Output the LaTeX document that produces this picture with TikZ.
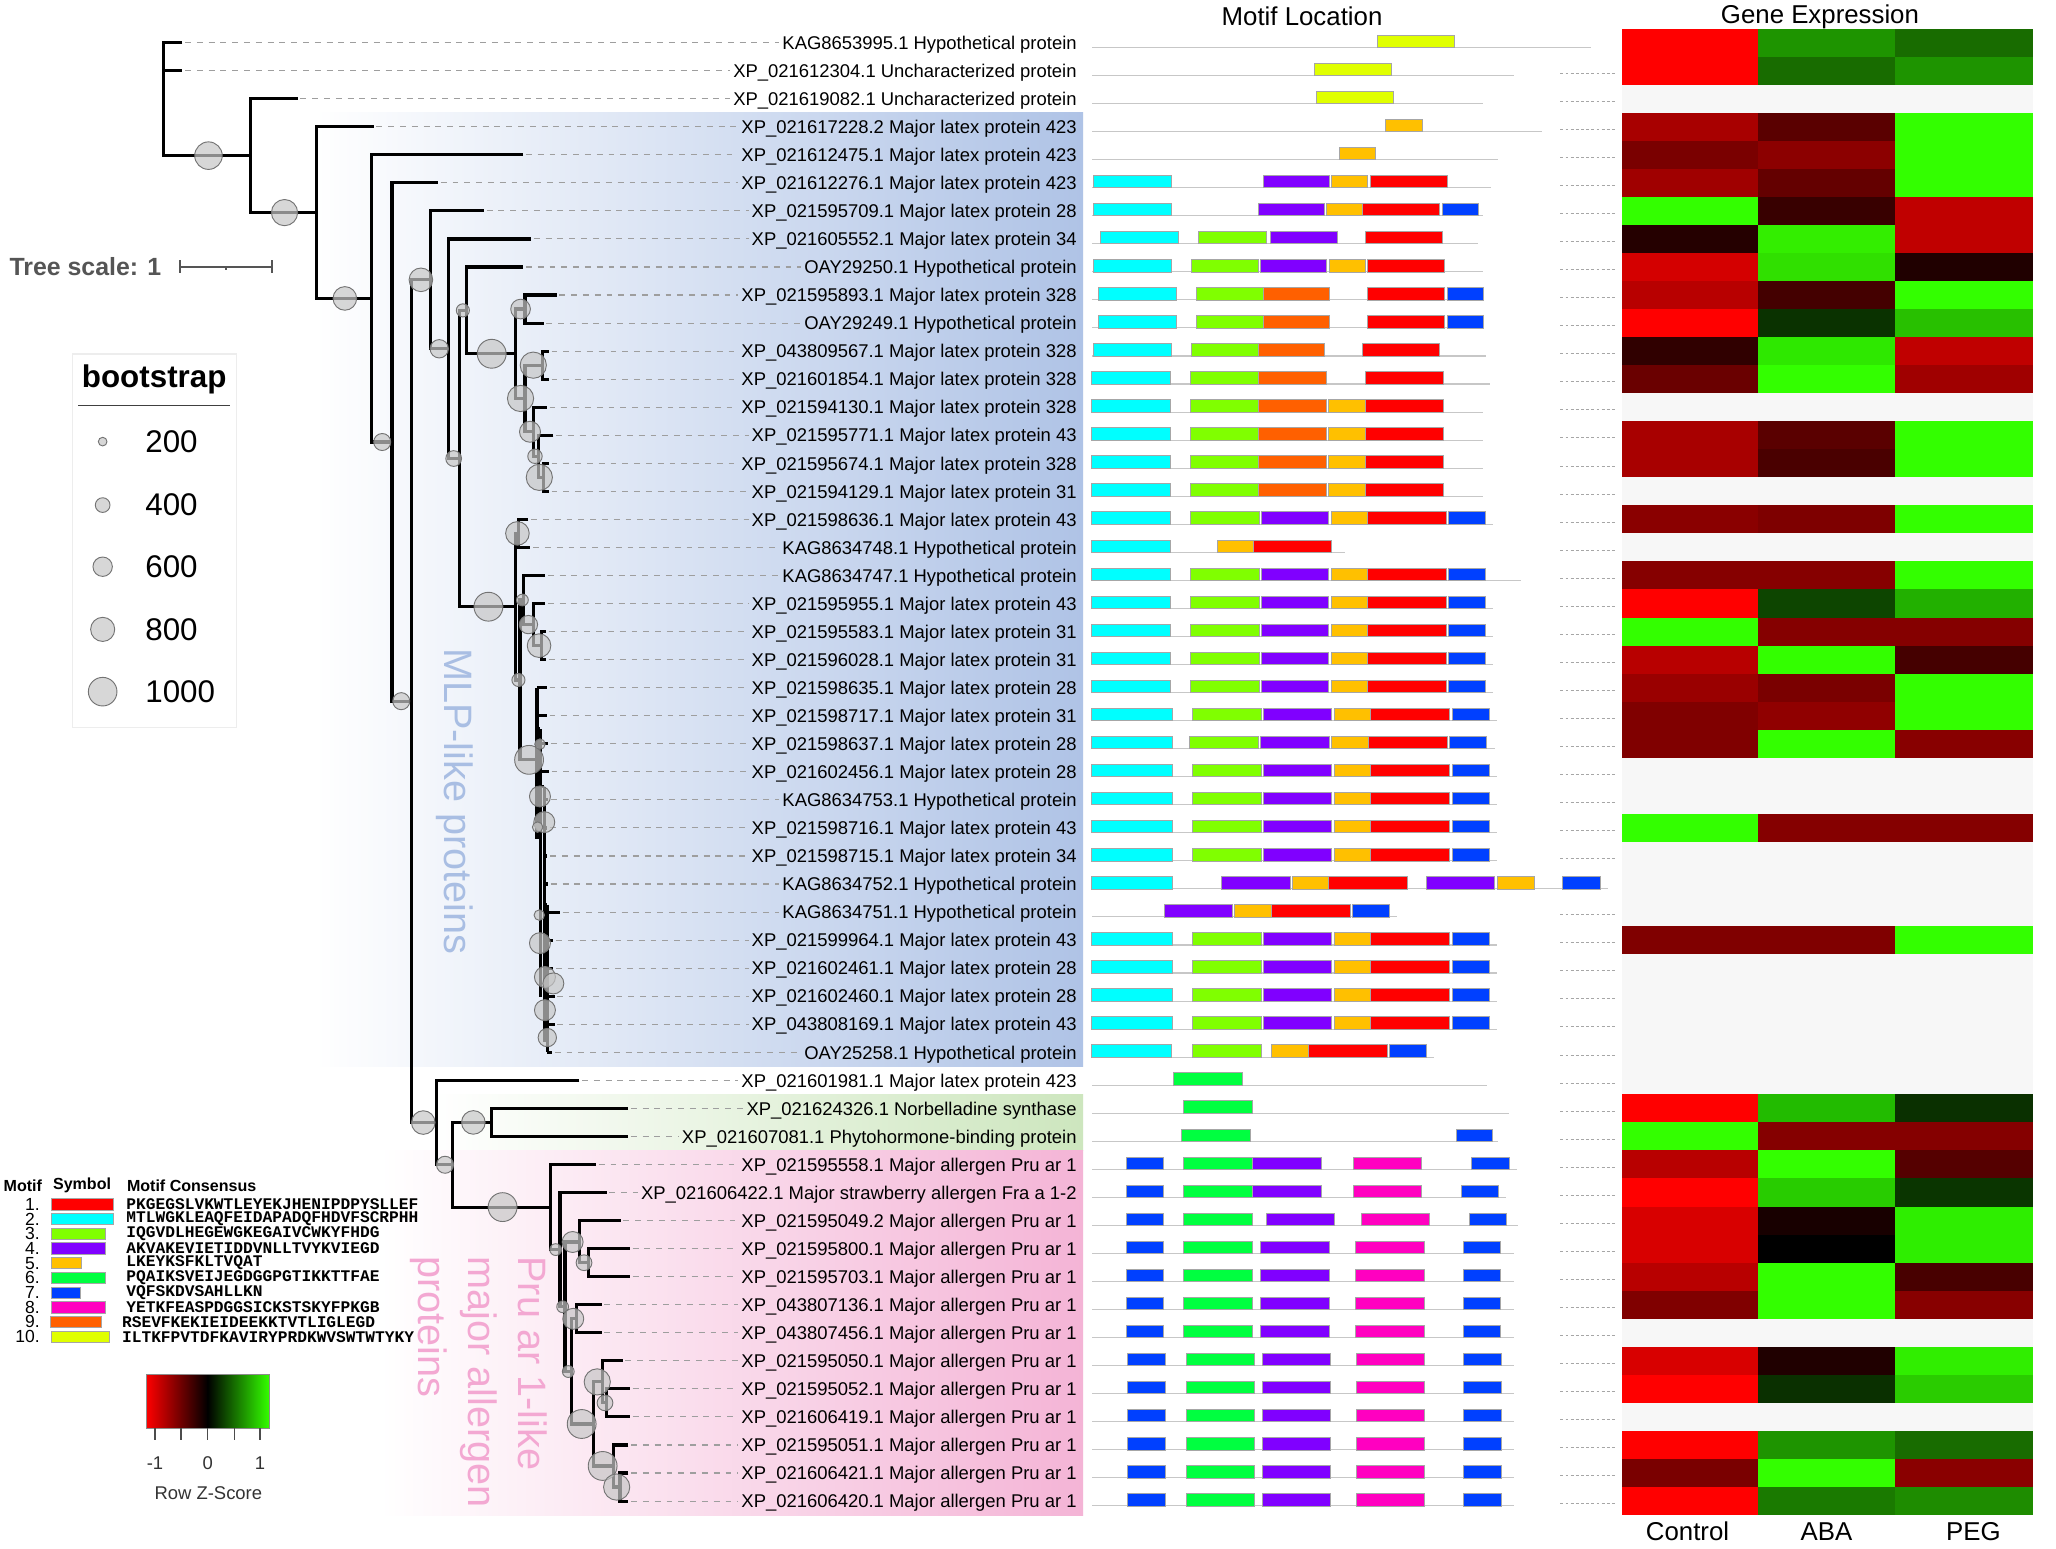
\documentclass[tikz,border=0pt]{standalone}
\usepackage{fontspec}
\setmainfont{Liberation Sans}
\newfontfamily\monof{Liberation Mono}
\definecolor{m1}{HTML}{FF0000}
\definecolor{m2}{HTML}{00FFFF}
\definecolor{m3}{HTML}{80FF00}
\definecolor{m4}{HTML}{8000FF}
\definecolor{m5}{HTML}{FFC000}
\definecolor{m6}{HTML}{00FF40}
\definecolor{m7}{HTML}{0040FF}
\definecolor{m8}{HTML}{FF00C0}
\definecolor{m9}{HTML}{FF6000}
\definecolor{m10}{HTML}{E0FF00}
\definecolor{cladeblue}{HTML}{AFC3E6}
\definecolor{cladegreen}{HTML}{CDE6BE}
\definecolor{cladepink}{HTML}{F4B4D6}
\definecolor{mlpblue}{HTML}{A9BEE3}
\definecolor{prupink}{HTML}{F3A8D2}
\definecolor{blankgray}{HTML}{F7F7F7}
\definecolor{kgreen}{HTML}{33FF00}
\definecolor{darkgraytxt}{HTML}{555555}
\tikzset{
 br/.style={line width=1.7pt, line join=miter},
 bsc/.style={fill=black!22, fill opacity=0.7, draw=black!55, line width=0.5pt},
 dsh/.style={draw=black!38, line width=0.6pt, dash pattern=on 3.2pt off 3.2pt},
 labtxt/.style={anchor=east, inner xsep=1.5pt, inner ysep=0pt, text height=1.38ex, text depth=0pt, font=\fontsize{10}{12}\selectfont},
 mline/.style={draw=black!22, line width=0.6pt},
 mbox/.style={draw=black!35, line width=0.35pt},
 sdsh/.style={draw=black!35, line width=0.45pt, dash pattern=on 1.6pt off 1.2pt},
 ttl/.style={font=\fontsize{14}{16}\selectfont, inner sep=0pt},
}
\newcommand{\nd}[5]{\draw[br] (#3,{#2}) -- (#1,{#2}) -- (#1,{#4}) -- (#5,{#4});}
\newcommand{\bcirc}[3]{\path[bsc] (#1,#2) circle[radius=#3*0.025cm];}
\newcommand{\lab}[2]{\node[labtxt] (L#1) at (823.5,{R(#1)}) {#2};}
\newcommand{\mln}[2]{\draw[mline] (833,{R(#1)+3.7}) -- (#2,{R(#1)+3.7});}
\newcommand{\mbx}[4]{\filldraw[mbox,fill=#4] (#2,{R(#1)-5.8}) rectangle (#3,{R(#1)+3.7});}
\newcommand{\PA}[1]{\mbx{#1}{832.4}{892.6}{m2}\mbx{#1}{907.8}{960.3}{m3}\mbx{#1}{961.9}{1013.4}{m4}\mbx{#1}{1015.2}{1042.8}{m5}\mbx{#1}{1042.8}{1102.9}{m1}\mbx{#1}{1104.5}{1132.6}{m7}}
\newcommand{\PB}[1]{\mbx{#1}{832.4}{893.9}{m2}\mbx{#1}{909.1}{961.6}{m3}\mbx{#1}{963.5}{1015.7}{m4}\mbx{#1}{1017.6}{1045.4}{m5}\mbx{#1}{1045.4}{1105.5}{m1}\mbx{#1}{1107.6}{1135.7}{m7}}
\newcommand{\PC}[1]{\mbx{#1}{832.4}{892.6}{m2}\mbx{#1}{907.8}{960}{m3}\mbx{#1}{960}{1011.3}{m9}\mbx{#1}{1013.4}{1041}{m5}\mbx{#1}{1041}{1100.5}{m1}}
\newcommand{\PD}[1]{\mbx{#1}{858.7}{887}{m7}\mbx{#1}{902.8}{955.3}{m6}\mbx{#1}{961.4}{1013.9}{m4}\mbx{#1}{1033.8}{1086.1}{m8}\mbx{#1}{1116.3}{1144.4}{m7}}
\newcommand{\PE}[1]{\mbx{#1}{860}{888.4}{m7}\mbx{#1}{904.4}{956.9}{m6}\mbx{#1}{962.4}{1014.7}{m4}\mbx{#1}{1034.4}{1086.6}{m8}\mbx{#1}{1116.3}{1144.7}{m7}}
\newcommand{\hm}[4]{\definecolor{hA}{HTML}{#2}\definecolor{hB}{HTML}{#3}\definecolor{hC}{HTML}{#4}%
 \fill[hA] (1237,{R(#1)-10.72}) rectangle (1341.5,{R(#1)+10.72});%
 \fill[hB] (1341,{R(#1)-10.72}) rectangle (1446,{R(#1)+10.72});%
 \fill[hC] (1445.5,{R(#1)-10.72}) rectangle (1550.5,{R(#1)+10.72});}
\begin{document}
\begin{tikzpicture}[x=0.025cm,y=-0.025cm,declare function={R(\k)=32.5+(\k-1)*21.39;}]
\useasboundingbox (0,0) rectangle (1568,1181);
\fill[white] (0,0) rectangle (1568,1181);

% ---------- clade shading ----------
\shade[left color=white, right color=cladeblue] (240,86) rectangle (826,813.2);
\shade[left color=white, right color=cladegreen] (330,834.6) rectangle (826,877.4);
\shade[left color=white, right color=cladepink] (290,877.4) rectangle (826,1155.5);
\node[rotate=-90, text=mlpblue, font=\fontsize{21.5}{26}\selectfont, inner sep=0pt] (mlp) at (347,611) {MLP-like proteins};
\node[rotate=-90, text=prupink, font=\fontsize{21.5}{27}\selectfont, align=left, inner sep=0pt, anchor=north west] (pru) at (417.5,958) {Pru ar 1-like\\major allergen\\proteins};

% ---------- labels ----------
\lab{1}{KAG8653995.1 Hypothetical protein}
\lab{2}{XP\_021612304.1 Uncharacterized protein}
\lab{3}{XP\_021619082.1 Uncharacterized protein}
\lab{4}{XP\_021617228.2 Major latex protein 423}
\lab{5}{XP\_021612475.1 Major latex protein 423}
\lab{6}{XP\_021612276.1 Major latex protein 423}
\lab{7}{XP\_021595709.1 Major latex protein 28}
\lab{8}{XP\_021605552.1 Major latex protein 34}
\lab{9}{OAY29250.1 Hypothetical protein}
\lab{10}{XP\_021595893.1 Major latex protein 328}
\lab{11}{OAY29249.1 Hypothetical protein}
\lab{12}{XP\_043809567.1 Major latex protein 328}
\lab{13}{XP\_021601854.1 Major latex protein 328}
\lab{14}{XP\_021594130.1 Major latex protein 328}
\lab{15}{XP\_021595771.1 Major latex protein 43}
\lab{16}{XP\_021595674.1 Major latex protein 328}
\lab{17}{XP\_021594129.1 Major latex protein 31}
\lab{18}{XP\_021598636.1 Major latex protein 43}
\lab{19}{KAG8634748.1 Hypothetical protein}
\lab{20}{KAG8634747.1 Hypothetical protein}
\lab{21}{XP\_021595955.1 Major latex protein 43}
\lab{22}{XP\_021595583.1 Major latex protein 31}
\lab{23}{XP\_021596028.1 Major latex protein 31}
\lab{24}{XP\_021598635.1 Major latex protein 28}
\lab{25}{XP\_021598717.1 Major latex protein 31}
\lab{26}{XP\_021598637.1 Major latex protein 28}
\lab{27}{XP\_021602456.1 Major latex protein 28}
\lab{28}{KAG8634753.1 Hypothetical protein}
\lab{29}{XP\_021598716.1 Major latex protein 43}
\lab{30}{XP\_021598715.1 Major latex protein 34}
\lab{31}{KAG8634752.1 Hypothetical protein}
\lab{32}{KAG8634751.1 Hypothetical protein}
\lab{33}{XP\_021599964.1 Major latex protein 43}
\lab{34}{XP\_021602461.1 Major latex protein 28}
\lab{35}{XP\_021602460.1 Major latex protein 28}
\lab{36}{XP\_043808169.1 Major latex protein 43}
\lab{37}{OAY25258.1 Hypothetical protein}
\lab{38}{XP\_021601981.1 Major latex protein 423}
\lab{39}{XP\_021624326.1 Norbelladine synthase}
\lab{40}{XP\_021607081.1 Phytohormone-binding protein}
\lab{41}{XP\_021595558.1 Major allergen Pru ar 1}
\lab{42}{XP\_021606422.1 Major strawberry allergen Fra a 1-2}
\lab{43}{XP\_021595049.2 Major allergen Pru ar 1}
\lab{44}{XP\_021595800.1 Major allergen Pru ar 1}
\lab{45}{XP\_021595703.1 Major allergen Pru ar 1}
\lab{46}{XP\_043807136.1 Major allergen Pru ar 1}
\lab{47}{XP\_043807456.1 Major allergen Pru ar 1}
\lab{48}{XP\_021595050.1 Major allergen Pru ar 1}
\lab{49}{XP\_021595052.1 Major allergen Pru ar 1}
\lab{50}{XP\_021606419.1 Major allergen Pru ar 1}
\lab{51}{XP\_021595051.1 Major allergen Pru ar 1}
\lab{52}{XP\_021606421.1 Major allergen Pru ar 1}
\lab{53}{XP\_021606420.1 Major allergen Pru ar 1}

% ---------- leaf ends and dashed connectors ----------
\foreach \i/\x in {1/139,2/139,3/227,4/285,5/399,6/334,7/369,8/405,9/399,10/424.5,11/414.5,12/418.5,13/418.5,14/417,15/422,16/418.5,17/418.5,18/403,19/404.5,20/415.7,21/415.7,22/416.5,23/416.5,24/417,25/417,26/418,27/418.5,28/418,29/417.5,30/417.5,31/418,32/427,33/422,34/422,35/423,36/423,37/421,38/441.8,39/479,40/479,41/454.5,42/462.6,43/473.3,44/480.4,45/480.4,46/458.8,47/458.8,48/474.9,49/480.4,50/480.4,51/479.2,52/479.2,53/479.2}{
  \coordinate (e\i) at (\x,{R(\i)});
  \draw[dsh] ([xshift=1.5pt]e\i) -- (L\i.west);
}

% ---------- tree ----------
\draw[br] (139,{R(1)}) -- (125,{R(1)}) -- (125,118.7) -- (191,118.7);
\draw[br] (125,{R(2)}) -- (139,{R(2)});
\nd{191}{R(3)}{227}{162.15}{241.5}
\nd{241.5}{R(4)}{285}{227.6}{283.5}
\nd{283.5}{R(5)}{399}{337.1}{299}
\nd{299}{R(6)}{334}{534.75}{313.5}
\nd{313.5}{213.4}{328}{856.1}{333}
\nd{328}{R(7)}{369}{266}{342}
\nd{342}{R(8)}{405}{349.7}{350.5}
\nd{350.5}{236.7}{355.5}{462.7}{393}
\nd{355.5}{R(9)}{399}{269.8}{393}
\nd{393}{235.7}{400.4}{303.9}{400.4}
\nd{400.4}{R(10)}{424.5}{R(11)}{414.5}
\nd{400.4}{278.5}{414}{329.3}{407}
\nd{414}{R(12)}{418.5}{R(13)}{418.5}
\nd{407}{R(14)}{417}{348}{410.5}
\nd{410.5}{R(15)}{422}{364.05}{414.4}
\nd{414.4}{R(16)}{418.5}{R(17)}{418.5}
\nd{393}{406.8}{395.3}{518.6}{396.6}
\nd{395.3}{R(18)}{403}{R(19)}{404.5}
\nd{396.6}{457.6}{399.2}{579.5}{409.5}
\nd{399.2}{R(20)}{415.7}{476.35}{406.8}
\nd{406.8}{R(21)}{415.7}{492.4}{413.1}
\nd{413.1}{R(22)}{416.5}{R(23)}{416.5}
% comb of rows 24-37
\draw[br] (409.5,{R(24)}) -- (409.5,640);
\draw[br] (412,556) -- (412,760);
\draw[br] (415,600) -- (415,795);
\draw[br] (417.5,690) -- (417.5,{R(37)});
\draw[br] (409.5,556) -- (412,556);
\draw[br] (412,600) -- (415,600);
\draw[br] (415,690) -- (417.5,690);
\foreach \i/\a/\b in {24/409.5/417,25/409.5/417,26/412/418,27/412/418.5,28/415/418,29/415/417.5,30/415/417.5,31/415/418,32/417.5/427,33/417.5/422,34/417.5/422,35/417.5/423,36/417.5/423,37/417.5/421}{
  \draw[br] (\a,{R(\i)}) -- (\b,{R(\i)});
}
% bottom clades
\nd{333}{R(38)}{441.8}{888.3}{345.2}
\nd{345.2}{856}{375}{920.6}{420}
\nd{375}{R(39)}{479}{R(40)}{479}
\nd{420}{R(41)}{454.5}{953}{427.1}
\nd{427.1}{R(42)}{462.6}{996.6}{430.9}
\nd{430.9}{947.2}{441.8}{1046}{436}
\nd{441.8}{R(43)}{473.3}{963}{448.7}
\nd{448.7}{R(44)}{480.4}{R(45)}{480.4}
\nd{436}{1005.8}{439.8}{1086}{452.5}
\nd{439.8}{R(46)}{458.8}{R(47)}{458.8}
\nd{452.5}{1053.9}{459.6}{1118}{467.7}
\nd{459.6}{R(48)}{474.9}{1069.9}{462.6}
\nd{462.6}{R(49)}{480.4}{R(50)}{480.4}
\nd{467.7}{R(51)}{479.2}{1134.1}{472.8}
\nd{472.8}{R(52)}{479.2}{R(53)}{479.2}

% bootstrap circles
\bcirc{159}{118.7}{10.5}
\bcirc{217}{162.15}{10}
\bcirc{263}{227.6}{9}
\bcirc{291.5}{337.1}{6.5}
\bcirc{306}{534.75}{6.5}
\bcirc{321}{213.4}{9}
\bcirc{335}{266}{7}
\bcirc{346}{349.7}{6}
\bcirc{353}{236.7}{5}
\bcirc{375}{269.8}{11}
\bcirc{397}{235.7}{7.5}
\bcirc{397}{303.9}{10}
\bcirc{406.7}{278.5}{10}
\bcirc{404.2}{329.3}{8}
\bcirc{408}{348}{5.5}
\bcirc{411.3}{364.05}{10}
\bcirc{372.5}{462.7}{11}
\bcirc{394.6}{406.8}{9}
\bcirc{395.4}{518.6}{5}
\bcirc{398.4}{457.6}{4.5}
\bcirc{403}{476.35}{7}
\bcirc{411.1}{492.4}{9}
\bcirc{403.5}{579.5}{11}
\bcirc{411.8}{567.5}{4}
\bcirc{411.8}{607.4}{8}
\bcirc{415.1}{627}{8}
\bcirc{410}{630.8}{4}
\bcirc{411.3}{697.9}{4}
\bcirc{411.8}{719.3}{8}
\bcirc{415.6}{745.1}{8}
\bcirc{422}{750}{8}
\bcirc{415.6}{770.4}{8}
\bcirc{417.4}{791.3}{7}
\bcirc{322.8}{856.1}{9}
\bcirc{339.4}{888.3}{6.5}
\bcirc{361}{856}{9}
\bcirc{383.3}{920.6}{11}
\bcirc{423.8}{953}{4.5}
\bcirc{429.1}{996.6}{4.5}
\bcirc{436.7}{947.2}{8}
\bcirc{445.4}{963}{6}
\bcirc{433.4}{1046}{4.5}
\bcirc{437.2}{1005.8}{8}
\bcirc{443.6}{1086}{11}
\bcirc{455.5}{1053.9}{10}
\bcirc{461.4}{1069.9}{6}
\bcirc{459.6}{1118}{11}
\bcirc{470.3}{1134.1}{10}

% ---------- motif location ----------
\node[ttl] (motiftitle) at (993,12.5) {Motif Location};
\mln{1}{1213}\mbx{1}{1050.4}{1109.5}{m10}
\mln{2}{1154.6}\mbx{2}{1002.1}{1060.9}{m10}
\mln{3}{1131}\mbx{3}{1003.6}{1062.7}{m10}
\mln{4}{1175.7}\mbx{4}{1056.2}{1084.5}{m5}
\mln{5}{1142.8}\mbx{5}{1021.2}{1049.1}{m5}
\mln{6}{1137}\mbx{6}{833.7}{893.1}{m2}\mbx{6}{963.2}{1014.1}{m4}\mbx{6}{1015.7}{1043}{m5}\mbx{6}{1044.9}{1103.7}{m1}
\mln{7}{1131}\mbx{7}{833.7}{893.1}{m2}\mbx{7}{959.3}{1010}{m4}\mbx{7}{1011.8}{1039.1}{m5}\mbx{7}{1039.1}{1097.7}{m1}\mbx{7}{1099.8}{1127.3}{m7}
\mln{8}{1127.1}\mbx{8}{839.5}{898.9}{m2}\mbx{8}{914.1}{965.6}{m3}\mbx{8}{968.7}{1019.9}{m4}\mbx{8}{1041}{1099.8}{m1}
\mln{9}{1131}\mbx{9}{833.7}{893.1}{m2}\mbx{9}{908.3}{959.5}{m3}\mbx{9}{961.1}{1011.8}{m4}\mbx{9}{1013.9}{1041}{m5}\mbx{9}{1042.8}{1101.6}{m1}
\foreach \r in {10,11}{\mln{\r}{1131}\mbx{\r}{837.7}{897}{m2}\mbx{\r}{912.3}{963.2}{m3}\mbx{\r}{963.2}{1013.9}{m9}\mbx{\r}{1042.8}{1101.6}{m1}\mbx{\r}{1103.7}{1131}{m7}}
\mln{12}{1133.1}\mbx{12}{833.7}{893.1}{m2}\mbx{12}{908.3}{959.3}{m3}\mbx{12}{959.3}{1010}{m9}\mbx{12}{1039.1}{1097.7}{m1}
\mln{13}{1136.3}\mbx{13}{832.4}{892.6}{m2}\mbx{13}{907.8}{960}{m3}\mbx{13}{960}{1011.3}{m9}\mbx{13}{1041}{1100.5}{m1}
\foreach \r in {14,15,16,17}{\mln{\r}{1131}\PC{\r}}
\mln{18}{1138.4}\PA{18}
\mln{19}{1025.4}\mbx{19}{832.4}{892.6}{m2}\mbx{19}{928}{955.8}{m5}\mbx{19}{955.8}{1015.4}{m1}
\mln{20}{1160}\PA{20}
\foreach \r in {21,22,23,24}{\mln{\r}{1138.4}\PA{\r}}
\foreach \r in {25,27,28,29,30,33,34,35,36}{\mln{\r}{1141.8}\PB{\r}}
\mln{26}{1140}\mbx{26}{832.4}{893.9}{m2}\mbx{26}{907}{959.5}{m3}\mbx{26}{961.4}{1013.6}{m4}\mbx{26}{1015.5}{1043.6}{m5}\mbx{26}{1043.6}{1103.7}{m1}\mbx{26}{1105.5}{1133.9}{m7}
\mln{31}{1226.3}\mbx{31}{832.4}{893.9}{m2}\mbx{31}{931.4}{983.7}{m4}\mbx{31}{985.3}{1013.4}{m5}\mbx{31}{1013.4}{1073.5}{m1}\mbx{31}{1087.4}{1139.9}{m4}\mbx{31}{1141.8}{1170.4}{m5}\mbx{31}{1191.7}{1220.3}{m7}
\mln{32}{1065.4}\mbx{32}{887.6}{939.6}{m4}\mbx{32}{941.4}{969.2}{m5}\mbx{32}{969.2}{1029.9}{m1}\mbx{32}{1031.5}{1059.8}{m7}
\mln{37}{1093.7}\mbx{37}{832.4}{893.1}{m2}\mbx{37}{909.1}{961.6}{m3}\mbx{37}{969.2}{997.9}{m5}\mbx{37}{997.9}{1057.7}{m1}\mbx{37}{1059.8}{1087.9}{m7}
\mln{38}{1134.4}\mbx{38}{894.9}{947.4}{m6}
\mln{39}{1150.7}\mbx{39}{902.8}{955.3}{m6}
\mln{40}{1142.3}\mbx{40}{901}{953.5}{m6}\mbx{40}{1110.3}{1138.4}{m7}
\mln{41}{1156.7}\mbx{41}{858.7}{887}{m7}\mbx{41}{902.8}{955.3}{m6}\mbx{41}{955.3}{1007.6}{m4}\mbx{41}{1032}{1084}{m8}\mbx{41}{1122.1}{1150.7}{m7}
\mln{42}{1148.3}\mbx{42}{858.7}{887}{m7}\mbx{42}{902.8}{955.3}{m6}\mbx{42}{955.3}{1007.6}{m4}\mbx{42}{1032}{1084}{m8}\mbx{42}{1114.2}{1142.6}{m7}
\mln{43}{1158}\mbx{43}{858.7}{887}{m7}\mbx{43}{902.8}{955.3}{m6}\mbx{43}{965.6}{1017.8}{m4}\mbx{43}{1038}{1090}{m8}\mbx{43}{1120.2}{1148.6}{m7}
\foreach \r in {44,45,46,47}{\mln{\r}{1154.6}\PD{\r}}
\foreach \r in {48,49,50,51,52,53}{\mln{\r}{1154.6}\PE{\r}}
% small dashed leaders before heatmap
\foreach \i in {2,...,30,32,33,...,53}{\draw[sdsh] (1190,{R(\i)+2}) -- (1233,{R(\i)+2});}

% ---------- heatmap ----------
\node[ttl] (getitle) at (1388,12.5) {Gene Expression};
\fill[blankgray] (1237,21.8) rectangle (1550.5,1155.5);
\hm{1}{FF0000}{1E9400}{186C00}
\hm{2}{FF0000}{186C00}{1E9400}
\hm{4}{A80000}{5A0000}{33FF00}
\hm{5}{7A0000}{8C0000}{33FF00}
\hm{6}{A00000}{640000}{33FF00}
\hm{7}{33FF00}{380000}{C00000}
\hm{8}{250000}{33EE00}{C00000}
\hm{9}{D40000}{30E000}{200000}
\hm{10}{B80000}{440000}{33FF00}
\hm{11}{FF0000}{0A3200}{28C000}
\hm{12}{300000}{2EE800}{C00000}
\hm{13}{6A0000}{33FF00}{A00000}
\hm{15}{A80000}{5A0000}{33FF00}
\hm{16}{A80000}{4A0000}{33FF00}
\hm{18}{8A0000}{7E0000}{33FF00}
\hm{20}{860000}{860000}{33FF00}
\hm{21}{FF0000}{0D4500}{22B000}
\hm{22}{33FF00}{850000}{850000}
\hm{23}{B80000}{33FF00}{450000}
\hm{24}{9A0000}{7A0000}{33FF00}
\hm{25}{800000}{900000}{33FF00}
\hm{26}{800000}{33FF00}{880000}
\hm{29}{33FF00}{850000}{850000}
\hm{33}{800000}{800000}{33FF00}
\hm{39}{FF0000}{22BB00}{0A3000}
\hm{40}{33FF00}{850000}{850000}
\hm{41}{B80000}{33FF00}{550000}
\hm{42}{FF0000}{28CC00}{0A3500}
\hm{43}{D80000}{180000}{2EEE00}
\hm{44}{D80000}{000000}{2EEE00}
\hm{45}{B80000}{33FF00}{480000}
\hm{46}{800000}{33FF00}{880000}
\hm{48}{D80000}{200000}{30EE00}
\hm{49}{FF0000}{0A3000}{2ACC00}
\hm{51}{FF0000}{1E9400}{186C00}
\hm{52}{7A0000}{33FF00}{8A0000}
\hm{53}{FF0000}{1A7A00}{1E8C00}
\node[ttl] (cctrl) at (1287,1168) {Control};
\node[ttl] (caba) at (1393,1168) {ABA};
\node[ttl] (cpeg) at (1505,1168) {PEG};

% ---------- tree scale ----------
\node[anchor=west, inner sep=0pt, text=darkgraytxt, font=\bfseries\fontsize{13.5}{15}\selectfont] (tscale) at (7,203) {Tree scale: 1};
\draw[darkgraytxt, line width=0.9pt] (137.3,198.6) -- (137.3,208.2) (137.3,203.4) -- (207.2,203.4) (207.2,198.6) -- (207.2,208.2) (172.4,203.4) -- (172.4,206);

% ---------- bootstrap legend ----------
\draw[draw=black!7, fill=white, line width=0.6pt] (55,270) rectangle (180.5,555);
\node[inner sep=0pt, font=\bfseries\fontsize{17}{19}\selectfont] (bstitle) at (117.6,289) {bootstrap};
\draw[black!75, line width=0.8pt] (59.8,309.4) -- (175.4,309.4);
\foreach \yy/\rr/\tt in {336.8/3.3/200, 385.2/5.6/400, 432.2/7.4/600, 480/9.2/800, 527.5/10.9/1000}{
  \bcirc{78.3}{\yy}{\rr}
  \node[anchor=west, inner sep=0pt, font=\fontsize{17}{19}\selectfont] at (110.6,\yy) {\tt};
}

% ---------- motif legend ----------
\node[anchor=west, inner sep=0pt, font=\bfseries\fontsize{8.7}{10}\selectfont] (hmotif) at (2.5,904) {Motif};
\node[anchor=west, inner sep=0pt, font=\bfseries\fontsize{8.7}{10}\selectfont] (hsym) at (40.2,904) {Symbol};
\node[anchor=west, inner sep=0pt, font=\bfseries\fontsize{8.7}{10}\selectfont] (hcons) at (96.6,904) {Motif Consensus};
\foreach \j/\xl/\xr/\cc/\xt/\seq in {
 1/39.4/86.4/m1/96.1/PKGEGSLVKWTLEYEKJHENIPDPYSLLEF,
 2/39.4/86.4/m2/96.1/MTLWGKLEAQFEIDAPADQFHDVFSCRPHH,
 3/39.4/80.3/m3/96.1/IQGVDLHEGEWGKEGAIVCWKYFHDG,
 4/39.4/80.3/m4/96.1/AKVAKEVIETIDDVNLLTVYKVIEGD,
 5/39.4/61.8/m5/96.1/LKEYKSFKLTVQAT,
 6/39.4/80.3/m6/96.1/PQAIKSVEIJEGDGGPGTIKKTTFAE,
 7/39.4/61.3/m7/96.1/VQFSKDVSAHLLKN,
 8/39.4/80.3/m8/96.1/YETKFEASPDGGSICKSTSKYFPKGB,
 9/38.6/77.3/m9/92.8/RSEVFKEKIEIDEEKKTVTLIGLEGD,
 10/38.9/83.1/m10/92.8/ILTKFPVTDFKAVIRYPRDKWVSWTWTYKY}{
  \pgfmathsetmacro{\yj}{918.5+(\j-1)*11.21}
  \node[anchor=east, inner sep=0pt, font=\fontsize{9.5}{10}\selectfont] at (30.5,\yj) {\j.};
  \filldraw[mbox, fill=\cc] (\xl,\yj-4.3) rectangle (\xr,\yj+4.3);
  \node[anchor=west, inner sep=0pt, font=\monof\bfseries\fontsize{8.8}{10}\selectfont] at (\xt,\yj) {\seq};
}

% ---------- colour key ----------
\shade[left color=red, right color=black] (111.4,1048.6) rectangle (158.4,1089.3);
\shade[left color=black, right color=kgreen] (158.4,1048.6) rectangle (205.4,1089.3);
\draw[black!45, line width=0.5pt] (111.4,1048.6) rectangle (205.4,1089.3);
\foreach \tx in {118.2,138,158.4,178.7,198.3}{\draw[black!70, line width=0.8pt] (\tx,1089.3) -- (\tx,1098.2);}
\node[inner sep=0pt, text=black!80, font=\fontsize{10}{12}\selectfont] (km1) at (118.2,1116) {-1};
\node[inner sep=0pt, text=black!80, font=\fontsize{10}{12}\selectfont] (k0) at (158.4,1116) {0};
\node[inner sep=0pt, text=black!80, font=\fontsize{10}{12}\selectfont] (k1) at (198.3,1116) {1};
\node[inner sep=0pt, text=black!80, font=\fontsize{10}{12}\selectfont] (kz) at (158.9,1139) {Row Z-Score};
\end{tikzpicture}
\end{document}
